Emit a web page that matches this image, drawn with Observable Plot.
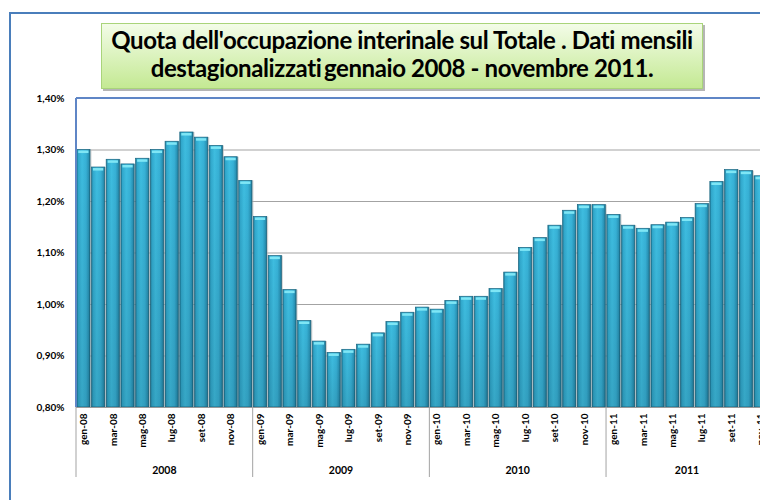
<!DOCTYPE html>
<html><head><meta charset="utf-8">
<script src="https://cdn.jsdelivr.net/npm/d3@7"></script>
<script src="https://cdn.jsdelivr.net/npm/@observablehq/plot@0.6"></script>
<style>
html,body{margin:0;padding:0;background:#fff;overflow:hidden;width:760px;height:500px;}
#wrap{position:relative;width:760px;height:500px;overflow:hidden;font-family:Lato,"Open Sans",sans-serif;}
#outer{position:absolute;left:9px;top:12px;width:820px;height:540px;border:2px solid #4a7ebb;box-sizing:border-box;}
#chart{position:absolute;left:0;top:0;width:790px;height:500px;}
#chart svg{max-width:none !important;width:790px;height:500px;}
#title{position:absolute;left:101px;top:23px;width:602px;height:66px;box-sizing:border-box;border:1px solid #a9d47a;
 background:linear-gradient(#f3fce8,#c4e993);box-shadow:2px 2px 0 #b5b5b5;text-align:center;font-weight:bold;
 font-size:24px;line-height:28px;padding-top:2px;color:#000;letter-spacing:-0.4px;white-space:nowrap;}
</style></head>
<body>
<div id="wrap">
  <div id="outer"></div>
  <div id="chart"></div>
  <div id="title">Quota dell'occupazione interinale sul Totale . Dati mensili<br>destagionalizzati&#8201;gennaio 2008 - novembre 2011.</div>
</div>
<script>
const monthNames = ["gen","feb","mar","apr","mag","giu","lug","ago","set","ott","nov","dic"];
const years = ["2008","2009","2010","2011"];
const v2008 = [1.300,1.266,1.281,1.272,1.283,1.300,1.316,1.334,1.324,1.308,1.286,1.240];
const v2009 = [1.170,1.094,1.028,0.968,0.928,0.906,0.912,0.922,0.944,0.966,0.984,0.994];
const v2010 = [0.990,1.007,1.015,1.015,1.030,1.062,1.110,1.129,1.153,1.182,1.193,1.193];
const v2011 = [1.174,1.153,1.147,1.154,1.159,1.168,1.195,1.238,1.261,1.259,1.249];
const yTicks = [0.8,0.9,1.0,1.1,1.2,1.3,1.4];

const series = [v2008, v2009, v2010, v2011];
const data = [];
series.forEach((vals, k) => vals.forEach((v, m) => data.push({
  month: monthNames[m] + "-" + years[k].slice(2), year: years[k], m, value: v
})));
const months = data.map(d => d.month);

const svg = Plot.plot({
  width: 790, height: 500,
  marginLeft: 76, marginRight: 22, marginTop: 98, marginBottom: 93,
  style: {fontFamily: "Lato, sans-serif", fontSize: "10px", fontWeight: "bold", color: "#000", background: "transparent", overflow: "visible", maxWidth: "none"},
  x: {type: "band", domain: months, paddingInner: 0.1, paddingOuter: 0.05, tickSize: 0, tickPadding: 6, tickRotate: -90,
      tickFormat: d => (months.indexOf(d) % 12) % 2 === 0 ? d : "", label: null},
  y: {domain: [0.8, 1.4], ticks: yTicks, tickSize: 0, tickPadding: 12,
      tickFormat: d => d.toFixed(2).replace(".", ",") + "%", label: null},
  marks: [
    Plot.ruleY(yTicks, {y: d => d, stroke: "#a3a3a3", strokeWidth: 1.2}),
    Plot.barY(data, {x: "month", y1: 0.8, y2: "value", fill: "#b8b8b8", fillOpacity: 0.6, dx: 1.5}),
    Plot.barY(data, {x: "month", y1: 0.8, y2: "value", fill: "url(#barGrad)", stroke: "#1a6680", strokeWidth: 0.7}),
    Plot.barY(data, {x: "month", y1: 0.8, y2: "value", fill: "url(#shadeGrad)"}),
    Plot.tickY(data, {x: "month", y: "value", stroke: "#7fe6f5", strokeWidth: 2.5, insetLeft: 1.5, insetRight: 1.5, dy: 1.8}),
    Plot.ruleY([0.8], {stroke: "#999", strokeWidth: 1.2})
  ]
});
svg.style.maxWidth = "none";
svg.setAttribute("width", 790);

const sel = d3.select(svg);
const defs = sel.insert("defs", ":first-child");
const g1 = defs.append("linearGradient").attr("id", "barGrad").attr("x1", 0).attr("x2", 1).attr("y1", 0).attr("y2", 0);
[["0%", "#1d7896"], ["12%", "#31a8cc"], ["40%", "#3ebde0"], ["70%", "#37b1d6"], ["90%", "#2993b6"], ["100%", "#1b6d88"]]
  .forEach(([o, c]) => g1.append("stop").attr("offset", o).attr("stop-color", c));
const g2 = defs.append("linearGradient").attr("id", "shadeGrad").attr("x1", 0).attr("x2", 0).attr("y1", 0).attr("y2", 1);
g2.append("stop").attr("offset", "0%").attr("stop-color", "#000").attr("stop-opacity", 0);
g2.append("stop").attr("offset", "100%").attr("stop-color", "#000").attr("stop-opacity", 0.12);

const xs = svg.scale("x");
const ys = svg.scale("y");
const bw = xs.bandwidth;
const step = xs.step;
const gap = step - bw;
const y0 = ys.apply(0.8);
const yTop = ys.apply(1.4);
const left = xs.range[0];
const over = sel.append("g");

over.append("line").attr("x1", left).attr("x2", 800).attr("y1", yTop).attr("y2", yTop).attr("stroke", "#5f86c6").attr("stroke-width", 2);
over.append("line").attr("x1", left).attr("x2", left).attr("y1", yTop).attr("y2", y0).attr("stroke", "#5f86c6").attr("stroke-width", 2);
over.append("line").attr("x1", left).attr("x2", left).attr("y1", y0).attr("y2", y0 + 70).attr("stroke", "#a3a3a3").attr("stroke-width", 1);

years.forEach(yr => {
  const ms = data.filter(d => d.year === yr).map(d => d.month);
  const x0 = yr === years[0] ? left : xs.apply(ms[0]) - gap / 2;
  const x1 = xs.apply(ms[ms.length - 1]) + bw + gap / 2;
  if (yr !== years[0]) {
    over.append("line").attr("x1", x0).attr("x2", x0).attr("y1", y0).attr("y2", y0 + 70).attr("stroke", "#a3a3a3").attr("stroke-width", 1);
  }
  over.append("text").attr("x", (x0 + x1) / 2).attr("y", y0 + 67).attr("text-anchor", "middle")
    .attr("font-family", "Lato, sans-serif").attr("font-size", "10.5px").attr("font-weight", "bold").text(yr);
});

document.getElementById("chart").appendChild(svg);
</script>
</body></html>
